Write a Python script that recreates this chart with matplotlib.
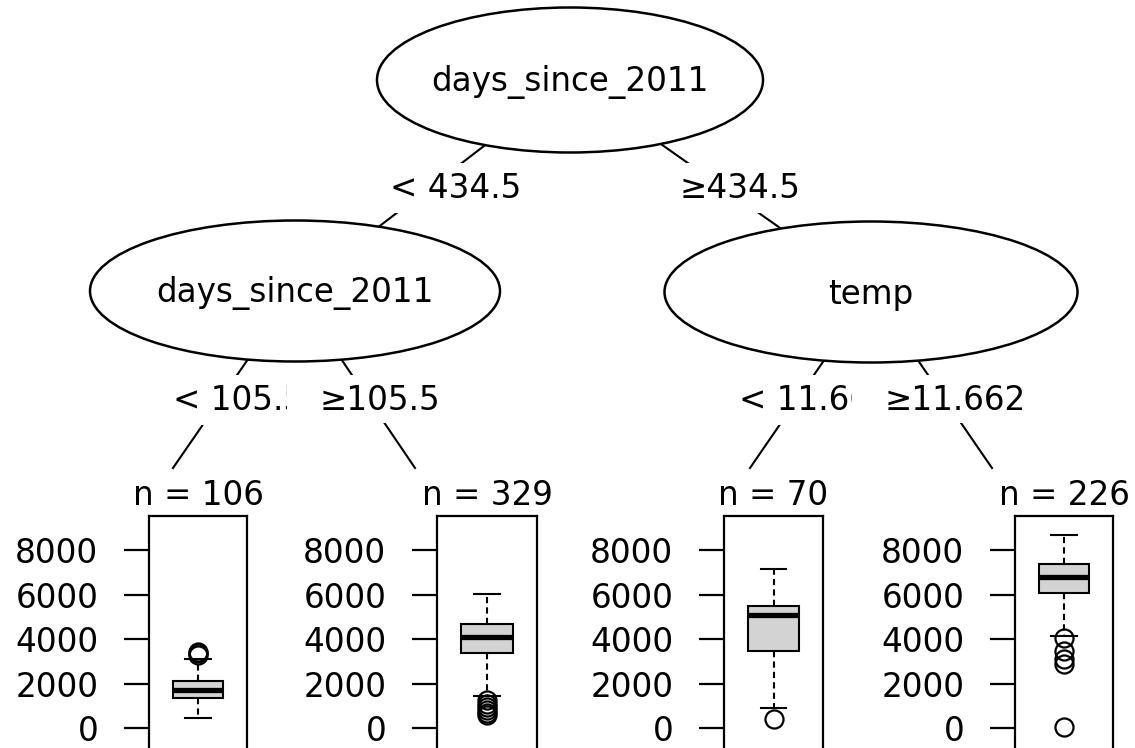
import matplotlib
matplotlib.use("Agg")
import matplotlib.pyplot as plt
from matplotlib.patches import Ellipse, Rectangle

# inner nodes: split variable of each node (root, left, right)
node_vars = ["days_since_2011", "days_since_2011", "temp"]
# split labels of each inner node
split_left = ["< 434.5", "< 105.5", "< 11.662"]
split_right = ["\u2265434.5", "\u2265105.5", "\u226511.662"]

# terminal nodes: size and boxplot stats of the response (bike count)
node_n = [106, 329, 70, 226]
box_whislo = [462, 1463, 897, 4141]
box_q1 = [1373, 3392, 3482, 6057]
box_med = [1718, 4110, 5083, 6801]
box_q3 = [2122, 4679, 5487, 7357]
box_whishi = [3109, 6025, 7133, 8659]
box_fliers = [[3290, 3370, 3410],
              [1260, 1100, 960, 820, 700, 600],
              [404],
              [4050, 3450, 3100, 2880, 70]]
y_ticks = [0, 2000, 4000, 6000, 8000]

# layout (pixels of the 1135x748 canvas)
W, H = 1135, 748
FS = 23.5
ell = [(570, 80, 386, 145), (295, 291, 410, 141), (871, 292, 413, 141)]
leaf_tops = [(173, 468), (415, 468), (750, 468), (992, 468)]
panels = [(149, 247), (437, 537), (724, 823), (1015, 1113)]
panel_top = 515.7
y0_px, px_per_unit = 728.3, 0.02229

fig = plt.figure(figsize=(W / 100, H / 100), dpi=100)
ax = fig.add_axes([0, 0, 1, 1])
ax.set_xlim(0, W)
ax.set_ylim(H, 0)
ax.axis("off")

# edges
edges = [(ell[0][:2], ell[1][:2]), (ell[0][:2], ell[2][:2]),
         (ell[1][:2], leaf_tops[0]), (ell[1][:2], leaf_tops[1]),
         (ell[2][:2], leaf_tops[2]), (ell[2][:2], leaf_tops[3])]
for (xa, ya), (xb, yb) in edges:
    ax.plot([xa, xb], [ya, yb], color="black", lw=1.5, zorder=1)

# inner nodes
for (cx, cy, w, h), name in zip(ell, node_vars):
    ax.add_patch(Ellipse((cx, cy), w, h, fc="white", ec="black", lw=1.8, zorder=2))
    ax.text(cx, cy + 2, name, ha="center", va="center", fontsize=FS, zorder=3)

# split labels
lab_box = dict(fc="white", ec="none", boxstyle="square,pad=0.25")
ax.text(390, 188, split_left[0], ha="left", va="center", fontsize=FS, bbox=lab_box, zorder=3)
ax.text(680, 188, split_right[0], ha="left", va="center", fontsize=FS, bbox=lab_box, zorder=3)
lvl2 = [(173, 287, 320), (739, 852, 885)]
for i, (xl, xcov, xr) in enumerate(lvl2):
    ax.text(xl, 400, split_left[i + 1], ha="left", va="center", fontsize=FS,
            bbox=lab_box, zorder=3)
    ax.add_patch(Rectangle((xcov, 375), 190, 48, fc="white", ec="none", zorder=4))
    ax.text(xr, 400, split_right[i + 1], ha="left", va="center", fontsize=FS, zorder=5)

def to_val(y):
    return (y0_px - y) / px_per_unit

# terminal nodes
for i, (x0, x1) in enumerate(panels):
    ax.text((x0 + x1) / 2, 495, "n = %d" % node_n[i], ha="center", va="center", fontsize=FS)
    pax = fig.add_axes([x0 / W, 0, (x1 - x0) / W, (H - panel_top) / H])
    stats = [dict(med=box_med[i], q1=box_q1[i], q3=box_q3[i],
                  whislo=box_whislo[i], whishi=box_whishi[i], fliers=box_fliers[i])]
    pax.bxp(stats, positions=[1], widths=0.52, capwidths=0.26, patch_artist=True,
            boxprops=dict(facecolor="lightgray", edgecolor="black", lw=1.5),
            medianprops=dict(color="black", lw=3.8),
            whiskerprops=dict(color="black", ls=(0, (3, 2)), lw=1.5),
            capprops=dict(color="black", lw=1.5),
            flierprops=dict(marker="o", mfc="none", mec="black", ms=13, mew=1.6))
    pax.set_xlim(0.5, 1.5)
    pax.set_ylim(to_val(H), to_val(panel_top))
    pax.set_xticks([])
    pax.set_yticks(y_ticks)
    pax.tick_params(axis="y", length=18, width=1.6, pad=18.5, labelsize=FS)
    pax.spines["bottom"].set_visible(False)
    for s in ["left", "right", "top"]:
        pax.spines[s].set_linewidth(1.6)

fig.savefig("out.png", dpi=100)
